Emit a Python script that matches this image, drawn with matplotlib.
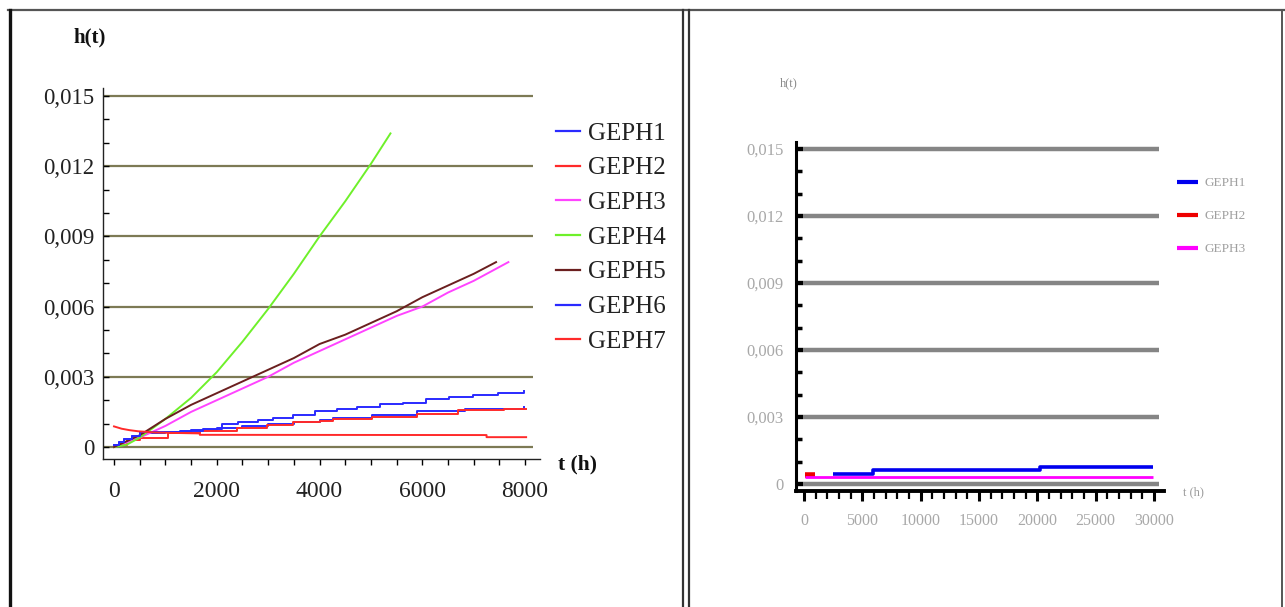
import matplotlib
matplotlib.use("Agg")
import matplotlib.pyplot as plt
from matplotlib.lines import Line2D
from matplotlib.ticker import MultipleLocator, FuncFormatter

# ---------------- data (left chart) ----------------
labels_left = ["GEPH1", "GEPH2", "GEPH3", "GEPH4", "GEPH5", "GEPH6", "GEPH7"]
colors_left = ["#2a2aff", "#ff2a2a", "#ff44ff", "#6ef02a", "#6b1f1f", "#2a2aff", "#ff2a2a"]

t1 = [0, 100, 200, 350, 500, 1000, 1500, 2000, 2500, 3000, 3500, 4010, 4260, 5015, 5890, 6830, 7970]
h1 = [0.00008, 0.00022, 0.00035, 0.00045, 0.00058, 0.00065, 0.00072, 0.00082, 0.0009, 0.00098, 0.00108,
      0.00117, 0.00124, 0.00135, 0.00153, 0.00163, 0.0017]

t2 = [0, 250, 500, 1048, 1674, 2388, 2972, 3490, 4010, 4260, 5015, 5890, 6700, 7580, 8020]
h2 = [0.0001, 0.0003, 0.0004, 0.00058, 0.00068, 0.00083, 0.00093, 0.00107, 0.00111, 0.00121, 0.00128,
      0.00139, 0.00156, 0.00163, 0.00163]

t3 = [0, 500, 1000, 1500, 2000, 2500, 3000, 3500, 4000, 4500, 5000, 5500, 6000, 6500, 7000, 7675]
h3 = [0.0, 0.0004, 0.0009, 0.0015, 0.0020, 0.0025, 0.0030, 0.0036, 0.0041, 0.0046, 0.0051, 0.0056,
      0.0060, 0.0066, 0.0071, 0.0079]

t4 = [0, 250, 500, 750, 1000, 1500, 2000, 2500, 3000, 3500, 4000, 4500, 5000, 5380]
h4 = [0.0, 0.0001, 0.0004, 0.0008, 0.0012, 0.0021, 0.0032, 0.0045, 0.0059, 0.0074, 0.0090, 0.0105,
      0.0121, 0.0134]

t5 = [0, 500, 1000, 1500, 2000, 2500, 3000, 3500, 4000, 4500, 5000, 5500, 6000, 6500, 7000, 7435]
h5 = [0.0, 0.0005, 0.0012, 0.0018, 0.0023, 0.0028, 0.0033, 0.0038, 0.0044, 0.0048, 0.0053, 0.0058,
      0.0064, 0.0069, 0.0074, 0.0079]

t6 = [0, 100, 200, 350, 500, 1285, 1740, 2095, 2420, 2810, 3100, 3490, 3912, 4335, 4725, 5180, 5620,
      6075, 6510, 6980, 7480, 7970]
h6 = [0.00008, 0.0002, 0.00035, 0.00046, 0.00062, 0.00068, 0.00079, 0.0010, 0.00107, 0.00114, 0.00124,
      0.00138, 0.00153, 0.00163, 0.00173, 0.00182, 0.0019, 0.00206, 0.00215, 0.00224, 0.00232, 0.00238]

t7 = [0, 150, 300, 475, 800, 1200, 1670, 1670, 7250, 7250, 8020]
h7 = [0.00088, 0.00078, 0.00072, 0.00067, 0.00062, 0.0006, 0.00058, 0.00052, 0.00051, 0.00042, 0.00042]

left_t = [t1, t2, t3, t4, t5, t6, t7]
left_h = [h1, h2, h3, h4, h5, h6, h7]
left_steps = [True, True, False, False, False, True, False]

left_yticks = [0, 0.003, 0.006, 0.009, 0.012, 0.015]
left_xticks = [0, 2000, 4000, 6000, 8000]

# ---------------- data (right chart) ----------------
labels_right = ["GEPH1", "GEPH2", "GEPH3"]
colors_right = ["#0000ee", "#ee0000", "#ff00ff"]
rt1 = [2500, 5890, 20230, 29940]
rh1 = [0.00043, 0.00063, 0.00075, 0.00075]
rt2 = [100, 960]
rh2 = [0.00042, 0.00042]
rt3 = [100, 29940]
rh3 = [0.0003, 0.0003]
right_t = [rt1, rt2, rt3]
right_h = [rh1, rh2, rh3]
right_lw = [2.6, 4.0, 2.0]

right_yticks = [0, 0.003, 0.006, 0.009, 0.012, 0.015]
right_xticks = [0, 5000, 10000, 15000, 20000, 25000, 30000]

W, H = 1285, 607
fig = plt.figure(figsize=(W / 100, H / 100), dpi=100)
fig.patch.set_facecolor("white")

SERIF = ["Liberation Serif", "DejaVu Serif"]


def comma_fmt(v, pos=None):
    if abs(v) < 1e-12:
        return "0"
    return ("%.3f" % v).replace(".", ",")


# ---------------- left axes ----------------
axL = fig.add_axes([102.7 / W, 1 - 459 / H, (540 - 102.7) / W, (459 - 88) / H])
axL.set_xlim(-220, 8290)
axL.set_ylim(-0.000513, 0.01534)
axL.hlines(left_yticks, -220, 8155, colors="#7d7a55", lw=1.6, zorder=1)
handles = []
for t, h, c, lab, st in zip(left_t, left_h, colors_left, labels_left, left_steps):
    ln, = axL.plot(t, h, color=c, lw=1.4, label=lab,
                   drawstyle="steps-post" if st else "default", zorder=3)
    handles.append(ln)
for s in ["top", "right"]:
    axL.spines[s].set_visible(False)
for s in ["left", "bottom"]:
    axL.spines[s].set_linewidth(1.0)
    axL.spines[s].set_color("#222222")
axL.set_yticks(left_yticks)
axL.yaxis.set_minor_locator(MultipleLocator(0.001))
axL.yaxis.set_major_formatter(FuncFormatter(comma_fmt))
axL.set_xticks(left_xticks)
axL.xaxis.set_minor_locator(MultipleLocator(500))
axL.tick_params(axis="y", which="both", direction="in", length=4, width=1, pad=6,
                labelsize=16.5, labelcolor="#222222")
axL.tick_params(axis="x", which="both", direction="out", length=4, width=1, pad=12,
                labelsize=17, labelcolor="#222222")
for lb in axL.get_xticklabels() + axL.get_yticklabels():
    lb.set_family(SERIF)
fig.text(73 / W, 1 - 37 / H, "h(t)", family=SERIF, fontweight="bold", fontsize=15,
         ha="left", va="center", color="#111111")
fig.text(558 / W, 1 - 464 / H, "t (h)", family=SERIF, fontweight="bold", fontsize=15.5,
         ha="left", va="center", color="#111111")
legL = fig.legend(handles=handles, loc="upper left", bbox_to_anchor=(556 / W, 1 - 122 / H),
                  bbox_transform=fig.transFigure, frameon=False, borderpad=0, borderaxespad=0,
                  handlelength=0.96, handletextpad=0.33, labelspacing=0.49,
                  prop={"family": SERIF, "size": 18})
for tx in legL.get_texts():
    tx.set_color("#222222")
for lh in legL.get_lines():
    lh.set_linewidth(1.6)

# ---------------- right axes ----------------
axR = fig.add_axes([796 / W, 1 - 491 / H, (1163.6 - 796) / W, (491 - 141.7) / H])
axR.set_xlim(-686, 30822)
axR.set_ylim(-0.000313, 0.015327)
axR.hlines(right_yticks, -686, 30400, colors="#858585", lw=3.2, zorder=1)
rhandles = []
for t, h, c, lab, lw in zip(right_t, right_h, colors_right, labels_right, right_lw):
    ln, = axR.plot(t, h, color=c, lw=lw, label=lab, drawstyle="steps-post",
                   solid_capstyle="butt", zorder=3)
    rhandles.append(ln)
for s in ["top", "right"]:
    axR.spines[s].set_visible(False)
axR.spines["left"].set_linewidth(2.2)
axR.spines["bottom"].set_linewidth(2.8)
axR.set_yticks(right_yticks)
axR.yaxis.set_minor_locator(MultipleLocator(0.001))
axR.yaxis.set_major_formatter(FuncFormatter(comma_fmt))
axR.set_xticks(right_xticks)
axR.xaxis.set_minor_locator(MultipleLocator(1000))
axR.tick_params(axis="y", which="major", direction="in", length=5, width=3, pad=9,
                labelsize=12, labelcolor="#a8a8a8")
axR.tick_params(axis="y", which="minor", direction="in", length=4, width=2.5)
axR.tick_params(axis="x", which="major", direction="out", length=7, width=2.2, pad=9,
                labelsize=11.5, labelcolor="#a8a8a8")
axR.tick_params(axis="x", which="minor", direction="out", length=6, width=1.6)
for lb in axR.get_xticklabels() + axR.get_yticklabels():
    lb.set_family(SERIF)
fig.text(789 / W, 1 - 83 / H, "h(t)", family=SERIF, fontsize=9, ha="center", va="center",
         color="#8a8a8a")
fig.text(1193 / W, 1 - 492 / H, "t (h)", family=SERIF, fontsize=9, ha="center", va="center",
         color="#9a9a9a")
legR = fig.legend(handles=rhandles, loc="upper left", bbox_to_anchor=(1177 / W, 1 - 177 / H),
                  bbox_transform=fig.transFigure, frameon=False, borderpad=0, borderaxespad=0,
                  handlelength=1.6, handletextpad=0.5, labelspacing=1.57,
                  prop={"family": SERIF, "size": 9.5})
for tx in legR.get_texts():
    tx.set_color("#a0a0a0")
for lh in legR.get_lines():
    lh.set_linewidth(3)

# ---------------- frame lines ----------------
def fline(x0, y0, x1, y1, lw, c):
    fig.add_artist(Line2D([x0 / W, x1 / W], [1 - y0 / H, 1 - y1 / H], lw=lw, color=c,
                          transform=fig.transFigure))

fline(8, 10, 1285, 10, 1.6, "#555555")
fline(10, 10, 10, 607, 2.4, "#111111")
fline(683, 10, 683, 607, 1.6, "#333333")
fline(689, 10, 689, 607, 1.6, "#333333")
fline(1282, 10, 1282, 607, 1.4, "#555555")

fig.savefig("out.png", dpi=100, facecolor="white")
